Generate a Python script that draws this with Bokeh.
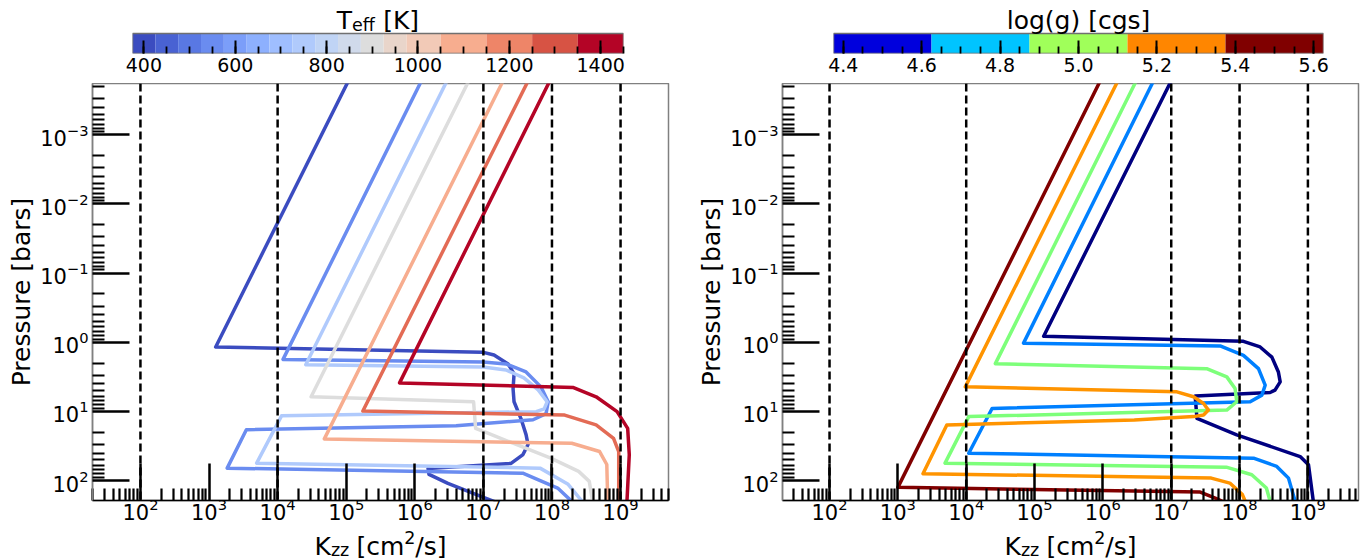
from bokeh.plotting import figure
from bokeh.models import Range1d, FixedTicker, Span, NumeralTickFormatter
from bokeh.layouts import row, column
from bokeh.embed import file_html
from bokeh.resources import INLINE
from bokeh.core.properties import value

FONT = "DejaVu Sans"

# ---------------- colour bars ----------------
teff_edges = [375, 425, 475, 525, 575, 625, 675, 725, 775, 825, 875, 925, 975, 1050, 1150, 1250, 1350, 1450]
teff_colors = ["#3b4cc0", "#4962d3", "#5978e3", "#6a8cf0", "#7b9ef9", "#8db0fe", "#9fbeff", "#b0cafc",
               "#c0d4f5", "#d0daeb", "#dddddd", "#e9d5ca", "#f2cab7", "#f7ad8f", "#ee8568", "#d75344", "#b40426"]
teff_major = [400, 600, 800, 1000, 1200, 1400]
teff_minor = [400, 450, 500, 550, 600, 650, 700, 750, 800, 850, 900, 950, 1000, 1050, 1100, 1150,
              1200, 1250, 1300, 1350, 1400, 1450]

logg_edges = [4.375, 4.625, 4.875, 5.125, 5.375, 5.625]
logg_colors = ["#0000dd", "#00c4ff", "#a0ff5a", "#ff8600", "#800000"]
logg_major = [4.4, 4.6, 4.8, 5.0, 5.2, 5.4, 5.6]
logg_minor = [4.4, 4.45, 4.5, 4.55, 4.6, 4.65, 4.7, 4.75, 4.8, 4.85, 4.9, 4.95, 5.0, 5.05, 5.1, 5.15,
              5.2, 5.25, 5.3, 5.35, 5.4, 5.45, 5.5, 5.55, 5.6]

# ---------------- axes ----------------
kzz_major = [1e2, 1e3, 1e4, 1e5, 1e6, 1e7, 1e8, 1e9]
kzz_minor = [m * 10.0 ** e for e in range(1, 10) for m in range(2, 10)]
p_major = [1e-3, 1e-2, 1e-1, 1e0, 1e1, 1e2]
p_minor = [m * 10.0 ** e for e in range(-4, 3) for m in range(2, 10)]
kzz_refs = [1e2, 1e4, 1e7, 1e8, 1e9]

# ---------------- left panel: Teff series ----------------
t1_kzz = [1.39e5, 1.25e3, 9.7e6, 1.43e7, 2.29e7, 2.80e7, 2.71e7, 2.80e7, 3.54e7, 4.19e7, 4.48e7, 3.78e7,
          2.53e7, 1.56e6, 1.61e6, 3.04e6, 9.2e6, 4.6e7]
t1_p = [1e-4, 1.17, 1.39, 1.53, 2.06, 2.87, 4.72, 7.26, 12.8, 21.7, 30.2, 42.1, 56.6, 66.8, 81.5, 110, 169, 316]

t2_kzz = [1.61e6, 1.2e4, 9.9e6, 2.14e7, 4.19e7, 6.9e7, 8.8e7, 8.2e7, 5.3e7, 4.0e6, 3.5e3, 1.84e3, 3.75e7,
          1.21e8, 1.94e8, 3.2e8]
t2_p = [1e-4, 1.77, 1.93, 2.06, 2.69, 4.42, 7.26, 10.8, 13.2, 16.1, 18.4, 66.2, 78.2, 128.5, 199.5, 316]

t3_kzz = [3.8e6, 2.57e4, 9.9e6, 2.14e7, 3.9e7, 6.3e7, 8.5e7, 7.7e7, 5.9e7, 1.14e4, 4.95e3, 6.7e7, 1.72e8,
          2.75e8, 4.1e8]
t3_p = [1e-4, 2.11, 2.28, 2.52, 3.28, 4.89, 7.27, 9.2, 10.1, 11.6, 56.1, 66.2, 113.5, 199.5, 316]

t4_kzz = [7.9e6, 3.08e4, 7.2e6, 7.7e6, 1.16e7, 9.6e7, 2.45e8, 3.5e8, 3.9e8, 4.2e8]
t4_p = [1e-4, 6.15, 7.26, 17.6, 20.7, 47.5, 73.8, 102.8, 199.5, 316]

t5_kzz = [2.5e7, 4.8e4, 1.94e8, 4.95e8, 6.3e8, 6.5e8, 6.6e8]
t5_p = [1e-4, 25.0, 28.9, 38.1, 58.6, 199.5, 316]

t6_kzz = [5.8e7, 1.75e5, 1.53e8, 4.4e8, 7.9e8, 9.4e8, 9.4e8, 9.4e8]
t6_p = [1e-4, 9.9, 11.3, 15.7, 24.5, 38.1, 199.5, 316]

t7_kzz = [1.2e8, 6.0e5, 2.06e8, 4.4e8, 8.9e8, 1.27e9, 1.34e9, 1.24e9, 1.22e9]
t7_p = [1e-4, 3.87, 4.52, 6.15, 10.1, 17.6, 42.1, 199.5, 316]

teff_line_colors = ["#3b4cc0", "#6a8cf0", "#b0cafc", "#dddddd", "#f7ad8f", "#e36b55", "#b40426"]

# ---------------- right panel: log(g) series ----------------
g1_kzz = [1.29e7, 1.36e5, 1.14e8, 2.0e8, 2.97e8, 3.7e8, 3.93e8, 3.3e8, 2.8e8, 2.24e7, 2.38e7, 9.1e7,
          7.7e8, 1.02e9, 1.2e9, 1.23e9]
g1_p = [1e-4, 0.82, 0.97, 1.17, 1.64, 2.69, 3.74, 4.93, 5.33, 6.01, 12.6, 21.9, 45, 59.2, 199.5, 316]

g2_kzz = [7.1e6, 6.9e4, 5.2e7, 1.14e8, 1.89e8, 2.37e8, 2.12e8, 1.43e8, 2.39e4, 1.09e4, 1.6e8, 3.5e8,
          5.2e8, 6.5e8, 7.1e8]
g2_p = [1e-4, 1.03, 1.13, 1.55, 2.41, 4.18, 5.82, 7.26, 9.07, 40.3, 47.5, 62.5, 92.3, 199.5, 316]

g3_kzz = [3.97e6, 2.67e4, 3.3e7, 6.5e7, 8.6e7, 9.1e7, 6.5e7, 1.09e4, 4.9e3, 6.4e7, 1.51e8, 2.47e8,
          2.8e8, 3.0e8]
g3_p = [1e-4, 2.04, 2.41, 3.17, 4.67, 7.26, 9.57, 11.9, 56.1, 64.1, 82.4, 128.5, 199.5, 316]

g4_kzz = [2.14e6, 9.7e3, 1.21e7, 2.12e7, 2.97e7, 3.5e7, 2.97e7, 2.12e7, 2.88e6, 5.2e3, 2.33e3, 3.85e7,
          7.2e7, 1.1e8, 1.21e8, 1.3e8]
g4_p = [1e-4, 4.42, 5.21, 6.15, 7.69, 9.57, 11.3, 11.9, 13.3, 15.7, 79.6, 92.3, 108.9, 160, 199.5, 316]

g5_kzz = [1.18e6, 1.0e3, 2.66e7, 4.4e7, 5.6e7, 1.0e8]
g5_p = [1e-4, 125.6, 146.6, 179, 199.5, 282]

logg_line_colors = ["#000080", "#0080ff", "#7dff7a", "#ff9400", "#800000"]

CB_H = 83      # colour-bar strip height
MAIN_H = 447   # main plot height (frame 417 + 30 for tick labels)
LAB_H = 29     # x-label strip height


def style_main(p):
    p.xgrid.visible = False
    p.ygrid.visible = False
    p.outline_line_color = "#808080"
    p.outline_line_width = 1.5
    p.xaxis.ticker = FixedTicker(ticks=kzz_major, minor_ticks=kzz_minor)
    p.yaxis.ticker = FixedTicker(ticks=p_major, minor_ticks=p_minor)
    for ax in (p.xaxis[0], p.yaxis[0]):
        ax.major_tick_in = 37
        ax.major_tick_out = 0
        ax.minor_tick_in = 12
        ax.minor_tick_out = 0
        ax.major_tick_line_width = 2.5
        ax.minor_tick_line_width = 2.2
        ax.major_tick_line_color = "black"
        ax.minor_tick_line_color = "black"
        ax.major_label_text_font = FONT
        ax.major_label_text_font_size = "21px"
        ax.major_label_text_color = "black"
        ax.axis_label_text_font = FONT
        ax.axis_label_text_font_size = "25px"
        ax.axis_label_text_font_style = "normal"
        ax.axis_label_text_color = "black"
    p.xaxis.axis_line_color = "black"
    p.xaxis.axis_line_width = 1.5
    p.yaxis.axis_line_color = "#808080"
    p.yaxis.axis_line_width = 1.5
    p.xaxis.major_label_standoff = -3
    p.yaxis.major_label_standoff = 4
    p.yaxis.axis_label = "Pressure [bars]"
    p.yaxis.axis_label_standoff = 1
    for loc in kzz_refs:
        p.add_layout(Span(location=loc, dimension="height", line_color="black",
                          line_width=2.5, line_dash="8 4"))


def xlabel_fig(width, bl, br):
    f = figure(width=width, height=LAB_H, x_range=Range1d(0, 1), y_range=Range1d(0, LAB_H),
               output_backend="svg", toolbar_location=None, x_axis_location=None, y_axis_location=None,
               min_border_left=bl, min_border_right=br, min_border_top=0, min_border_bottom=0,
               frame_align=False)
    f.outline_line_color = None
    f.xgrid.visible = False
    f.ygrid.visible = False
    # K_zz [cm^2/s]
    f.text(x=[0.5] * 5, y=[13, 9.5, 13, 22, 13], text=["K", "zz", "[cm", "2", "/s]"],
           x_offset=[-66.0, -49.6, -24.1, 23.7, 34.8],
           text_font=value(FONT), text_font_size=["25px", "17.5px", "25px", "17.5px", "25px"],
           text_color="black", text_align="left", text_baseline="alphabetic")
    return f


def colorbar_fig(width, bl, br, edges, colors, major, minor):
    c = figure(width=width, height=CB_H, x_range=Range1d(edges[0], edges[-1]), y_range=Range1d(0, 53),
               output_backend="svg", toolbar_location=None, y_axis_location=None,
               min_border_left=bl, min_border_right=br, min_border_top=0, min_border_bottom=30,
               frame_align=False)
    c.quad(left=edges[:-1], right=edges[1:], bottom=0, top=20, fill_color=colors, line_color=None)
    c.quad(left=[edges[0]], right=[edges[-1]], bottom=0, top=20, fill_color=None,
           line_color="#707070", line_width=1.5)
    c.xgrid.visible = False
    c.ygrid.visible = False
    c.outline_line_color = None
    ax = c.xaxis[0]
    ax.ticker = FixedTicker(ticks=major, minor_ticks=minor)
    ax.major_tick_in = 13
    ax.major_tick_out = 0
    ax.minor_tick_in = 7
    ax.minor_tick_out = 0
    ax.major_tick_line_width = 2
    ax.minor_tick_line_width = 1.8
    ax.major_tick_line_color = "black"
    ax.minor_tick_line_color = "black"
    ax.axis_line_color = None
    ax.major_label_text_font = FONT
    ax.major_label_text_font_size = "19px"
    ax.major_label_text_color = "black"
    ax.major_label_standoff = 4
    return c


# ---------------- left ----------------
cb_left = colorbar_fig(690, 132, 67, teff_edges, teff_colors, teff_major, teff_minor)
tmid = (teff_edges[0] + teff_edges[-1]) / 2
cb_left.text(x=[tmid] * 3, y=[33, 28.5, 33], text=["T", "eff", "[K]"], x_offset=[-41.2, -25.9, 5.2],
             text_font=value(FONT), text_font_size=["25px", "17.5px", "25px"], text_color="black",
             text_align="left", text_baseline="alphabetic")

p_left = figure(width=690, height=MAIN_H, x_axis_type="log", y_axis_type="log",
                x_range=Range1d(20, 5e9), y_range=Range1d(194.5, 1.81e-4),
                output_backend="svg", toolbar_location=None, frame_align=False,
                min_border_left=92, min_border_right=22, min_border_top=0, min_border_bottom=30)
teff_series = [(t1_kzz, t1_p), (t2_kzz, t2_p), (t3_kzz, t3_p), (t4_kzz, t4_p),
               (t5_kzz, t5_p), (t6_kzz, t6_p), (t7_kzz, t7_p)]
for (k, pr), col in zip(teff_series, teff_line_colors):
    p_left.line(k, pr, line_color=col, line_width=3.5, line_join="round")
style_main(p_left)
lab_left = xlabel_fig(690, 92, 22)

# ---------------- right ----------------
cb_right = colorbar_fig(671, 143, 38, logg_edges, logg_colors, logg_major, logg_minor)
cb_right.xaxis[0].formatter = NumeralTickFormatter(format="0.0")
gmid = (logg_edges[0] + logg_edges[-1]) / 2
cb_right.text(x=[gmid], y=[33], text=["log(g) [cgs]"], text_font=value(FONT), text_font_size="25px",
              text_color="black", text_align="center", text_baseline="alphabetic")

p_right = figure(width=671, height=MAIN_H, x_axis_type="log", y_axis_type="log",
                 x_range=Range1d(20.5, 5.5e9), y_range=Range1d(194.5, 1.81e-4),
                 output_backend="svg", toolbar_location=None, frame_align=False,
                 min_border_left=92, min_border_right=3, min_border_top=0, min_border_bottom=30)
logg_series = [(g1_kzz, g1_p), (g2_kzz, g2_p), (g3_kzz, g3_p), (g4_kzz, g4_p), (g5_kzz, g5_p)]
for (k, pr), col in zip(logg_series, logg_line_colors):
    p_right.line(k, pr, line_color=col, line_width=3.5, line_join="round")
style_main(p_right)
lab_right = xlabel_fig(671, 92, 3)

layout = row(column(cb_left, p_left, lab_left), column(cb_right, p_right, lab_right))
open("out.html", "w").write(file_html(layout, INLINE))
